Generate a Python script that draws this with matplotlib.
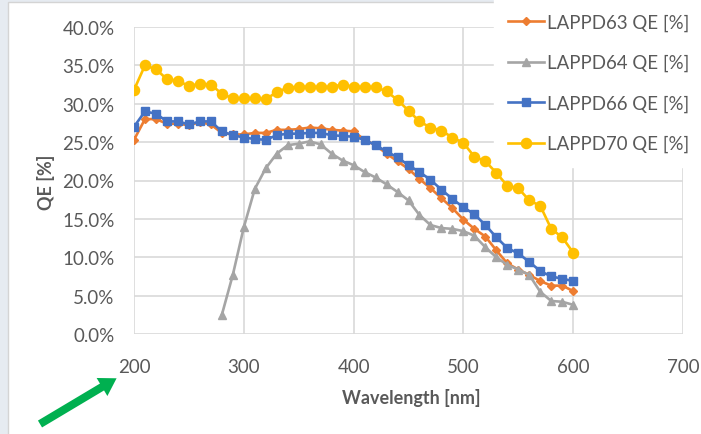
import matplotlib
matplotlib.use("Agg")
import matplotlib.pyplot as plt
from matplotlib.patches import Rectangle, FancyArrow
from matplotlib.ticker import FuncFormatter, MultipleLocator
from matplotlib.lines import Line2D

plt.rcParams['font.family'] = ['Lato', 'DejaVu Sans']

wavelength = [200, 210, 220, 230, 240, 250, 260, 270, 280, 290, 300, 310, 320, 330, 340,
              350, 360, 370, 380, 390, 400, 410, 420, 430, 440, 450, 460, 470, 480, 490,
              500, 510, 520, 530, 540, 550, 560, 570, 580, 590, 600]

lappd63 = [25.3, 28.0, 28.0, 27.4, 27.4, 27.2, 27.6, 27.3, 26.2, 26.0, 26.0, 26.2, 26.2, 26.6, 26.6,
           26.7, 26.9, 26.8, 26.6, 26.5, 26.4, 25.3, 24.6, 23.5, 22.5, 21.5, 20.2, 19.0, 17.7, 16.4,
           14.9, 13.7, 12.7, 10.9, 9.2, 8.4, 7.7, 6.9, 6.3, 6.3, 5.6]

wavelength64 = [280, 290, 300, 310, 320, 330, 340, 350, 360, 370, 380, 390, 400, 410, 420,
                430, 440, 450, 460, 470, 480, 490, 500, 510, 520, 530, 540, 550, 560, 570,
                580, 590, 600]
lappd64 = [2.5, 7.7, 13.9, 18.9, 21.6, 23.5, 24.6, 24.8, 25.1, 24.7, 23.5, 22.6, 22.0, 21.1, 20.4,
           19.5, 18.5, 17.4, 15.5, 14.2, 13.8, 13.7, 13.4, 12.8, 11.3, 10.0, 9.0, 8.4, 7.7, 5.5,
           4.3, 4.2, 3.8]

lappd66 = [27.0, 29.0, 28.7, 27.7, 27.7, 27.3, 27.7, 27.7, 26.4, 25.9, 25.6, 25.4, 25.3, 25.9, 26.1,
           26.1, 26.2, 26.2, 25.9, 25.8, 25.7, 25.3, 24.6, 23.8, 23.0, 22.0, 21.1, 20.1, 18.8, 17.6,
           16.5, 15.6, 14.2, 12.6, 11.2, 10.5, 9.4, 8.2, 7.5, 7.2, 6.9]

lappd70 = [31.8, 35.0, 34.5, 33.2, 33.0, 32.3, 32.6, 32.5, 31.3, 30.7, 30.7, 30.7, 30.6, 31.5, 32.1,
           32.2, 32.2, 32.2, 32.2, 32.5, 32.2, 32.2, 32.2, 31.6, 30.5, 29.1, 27.7, 26.9, 26.5, 25.6,
           24.9, 23.1, 22.5, 21.0, 19.3, 19.0, 17.4, 16.7, 13.7, 12.6, 10.6]

labels = ["LAPPD63 QE [%]", "LAPPD64 QE [%]", "LAPPD66 QE [%]", "LAPPD70 QE [%]"]
x_ticks = [200, 300, 400, 500, 600, 700]

W, H = 701, 435
fig = plt.figure(figsize=(W / 100, H / 100), dpi=100, facecolor='#e6ebf1')

# white panel
panel = Rectangle((8 / W, -0.01), 1.0, 1.0 - 3 / H + 0.01, transform=fig.transFigure,
                  facecolor='white', edgecolor='#d4d4d4', linewidth=1, zorder=0)
fig.add_artist(panel)

ax = fig.add_axes([134 / W, (H - 335) / H, (683 - 134) / W, (335 - 28) / H])
ax.set_facecolor('none')

text_col = '#595959'
grid_col = '#d9d9d9'

ax.plot(wavelength, lappd63, color='#ED7D31', lw=1.9, marker='D', ms=4.5, zorder=3)
ax.plot(wavelength64, lappd64, color='#A5A5A5', lw=1.9, marker='^', ms=6, zorder=4)
ax.plot(wavelength, lappd66, color='#4472C4', lw=1.9, marker='s', ms=6.2, zorder=5)
ax.plot(wavelength, lappd70, color='#FFC000', lw=1.9, marker='o', ms=7.3, zorder=6)

ax.set_xlim(200, 700)
ax.set_ylim(0, 40)
ax.set_xticks(x_ticks)
ax.yaxis.set_major_locator(MultipleLocator(5))
ax.yaxis.set_major_formatter(FuncFormatter(lambda v, p: f"{v:.1f}%"))
ax.grid(True, color=grid_col, lw=1.2, zorder=0)
ax.set_axisbelow(True)
for s in ax.spines.values():
    s.set_visible(False)
ax.tick_params(axis='both', length=0, labelsize=13.5, colors=text_col)
ax.tick_params(axis='y', pad=14)
ax.tick_params(axis='x', pad=17)

ax.set_xlabel("Wavelength [nm]", fontsize=13, color=text_col, fontweight='bold')
ax.set_ylabel("QE [%]", fontsize=13, color=text_col, fontweight='bold')
ax.xaxis.set_label_coords((411 - 134) / (683 - 134), -(389 - 335) / (335 - 28))
ax.yaxis.set_label_coords(-(134 - 55) / (683 - 134), (335 - 182) / (335 - 28))

handles = [
    Line2D([], [], color='#ED7D31', lw=1.9, marker='D', ms=4.5),
    Line2D([], [], color='#A5A5A5', lw=1.9, marker='^', ms=6),
    Line2D([], [], color='#4472C4', lw=1.9, marker='s', ms=6.2),
    Line2D([], [], color='#FFC000', lw=1.9, marker='o', ms=7.3),
]
leg = ax.legend(handles, labels, loc='upper left', bbox_to_anchor=(494 / W, 1.0),
                bbox_transform=fig.transFigure, fontsize=13.4, frameon=True,
                facecolor='white', edgecolor='white', framealpha=1, fancybox=False,
                handlelength=1.9, handletextpad=0.2, labelspacing=1.25,
                borderpad=0.77, borderaxespad=0)
for t in leg.get_texts():
    t.set_color(text_col)
leg.set_zorder(10)

# green arrow
arrow = FancyArrow(0.40, 0.10, 0.62, 0.37, width=0.08, head_width=0.21, head_length=0.17,
                   length_includes_head=False, transform=fig.dpi_scale_trans,
                   color='#00B050', linewidth=0)
fig.add_artist(arrow)

fig.savefig('out.png', dpi=100, facecolor=fig.get_facecolor())
